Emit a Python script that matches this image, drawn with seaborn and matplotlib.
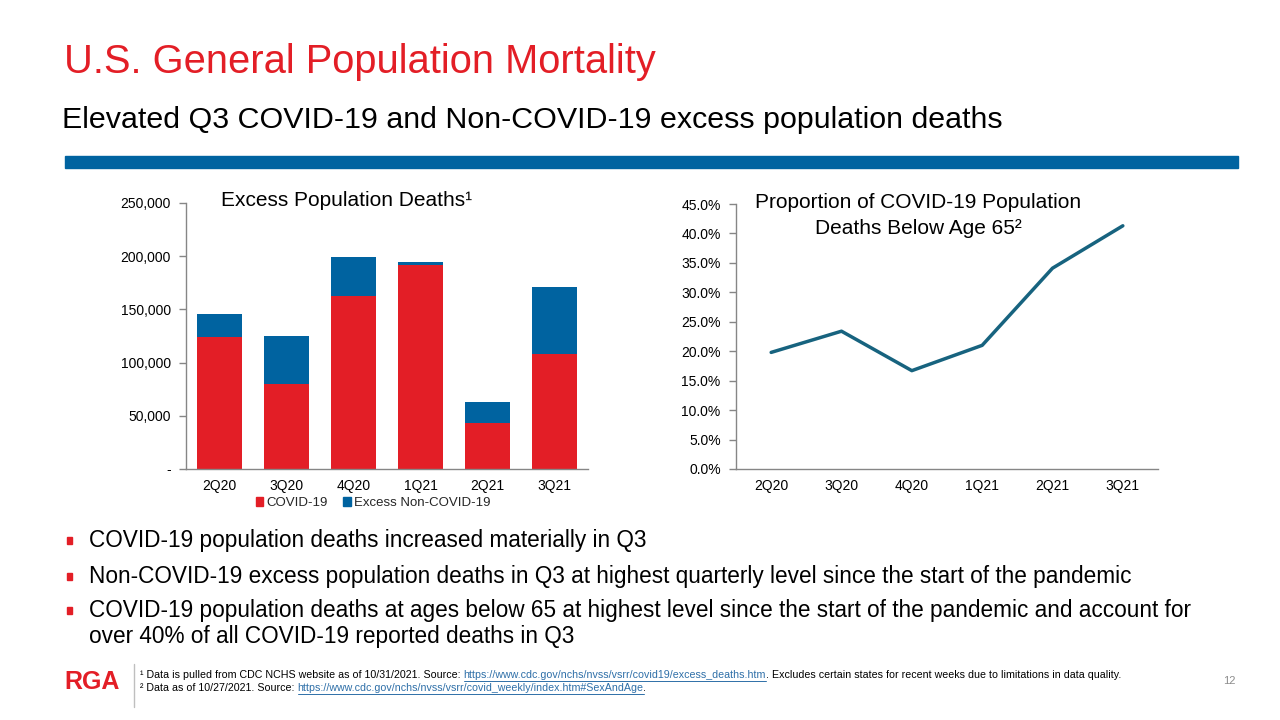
import pandas as pd
import seaborn as sns
import matplotlib.pyplot as plt
from matplotlib.patches import Patch, Rectangle
from matplotlib.lines import Line2D
from matplotlib.ticker import FuncFormatter

# data
quarters = ["2Q20", "3Q20", "4Q20", "1Q21", "2Q21", "3Q21"]
covid_deaths = [123600, 80300, 162200, 192000, 43300, 108500]
non_covid_excess = [22300, 44900, 37300, 2800, 19700, 62800]
share_below_65 = [19.8, 23.4, 16.7, 21.0, 34.1, 41.3]

bar_ticks = [0, 50000, 100000, 150000, 200000, 250000]
pct_ticks = [0, 5, 10, 15, 20, 25, 30, 35, 40, 45]

bullets = [
    "COVID-19 population deaths increased materially in Q3",
    "Non-COVID-19 excess population deaths in Q3 at highest quarterly level since the start of the pandemic",
    "COVID-19 population deaths at ages below 65 at highest level since the start of the pandemic and account for\nover 40% of all COVID-19 reported deaths in Q3",
]

RED = "#E31E26"
BLUE = "#0063A0"
LINE = "#17637F"
GREY = "#868686"

sns.set_theme(style="white")
plt.rcParams["font.family"] = ["Liberation Sans", "DejaVu Sans"]

df = pd.DataFrame({
    "quarter": quarters,
    "covid": covid_deaths,
    "non_covid": non_covid_excess,
    "share": share_below_65,
})
df["total"] = df["covid"] + df["non_covid"]

fig = plt.figure(figsize=(12.8, 7.2), dpi=100)
W, H = 1280, 720


def fx(px):
    return px / W


def fy(py):
    return 1 - py / H


# *Stacked bar chart of excess deaths (total bar in blue, covid part in red on top of it)
ax1 = fig.add_axes([fx(186), fy(469), fx(588) - fx(186), fy(203) - fy(469)])
sns.barplot(data=df, x="quarter", y="total", color=BLUE, width=0.67,
            saturation=1, linewidth=0, ax=ax1)
sns.barplot(data=df, x="quarter", y="covid", color=RED, width=0.67,
            saturation=1, linewidth=0, ax=ax1)
ax1.set_ylim(0, 250000)
ax1.set_xlim(-0.5, 5.5)
ax1.set_yticks(bar_ticks)
ax1.yaxis.set_major_formatter(FuncFormatter(lambda v, p: "-" if v == 0 else f"{int(v):,}"))
ax1.set_xlabel("")
ax1.set_ylabel("")
fig.text(fx(221), fy(201), "Excess Population Deaths\u00b9", ha="left", va="center",
         fontsize=15, color="black")
handles = [Patch(color=RED, label="COVID-19"), Patch(color=BLUE, label="Excess Non-COVID-19")]
ax1.legend(handles=handles, loc="center", bbox_to_anchor=(0.465, -0.128), ncol=2,
           frameon=False, fontsize=9.5, handlelength=0.6, handleheight=0.6,
           handletextpad=0.2, columnspacing=1.2, borderaxespad=0, borderpad=0)

# *Line chart of share of covid deaths below age 65
ax2 = fig.add_axes([fx(736), fy(469), fx(1158) - fx(736), fy(204) - fy(469)])
sns.lineplot(data=df, x="quarter", y="share", color=LINE, linewidth=2.5,
             sort=False, ax=ax2)
ax2.set_ylim(0, 45)
ax2.set_xlim(-0.5, 5.5)
ax2.set_yticks(pct_ticks)
ax2.yaxis.set_major_formatter(FuncFormatter(lambda v, p: f"{v:.1f}%"))
ax2.set_xlabel("")
ax2.set_ylabel("")
fig.text(fx(918), fy(202), "Proportion of COVID-19 Population", ha="center", va="center",
         fontsize=15, color="black")
fig.text(fx(918), fy(228), "Deaths Below Age 65\u00b2", ha="center", va="center",
         fontsize=15, color="black")

for ax in (ax1, ax2):
    for s in ("top", "right"):
        ax.spines[s].set_visible(False)
    for s in ("left", "bottom"):
        ax.spines[s].set_color(GREY)
        ax.spines[s].set_linewidth(1)
    ax.tick_params(axis="y", which="major", left=True, length=5, width=1,
                   color=GREY, labelsize=10, pad=6, labelcolor="black")
    ax.tick_params(axis="x", bottom=False, length=0, labelsize=10, pad=7,
                   labelcolor="black")
    ax.grid(False)

# *Slide title, subtitle and blue rule
fig.text(fx(64), fy(73), "U.S. General Population Mortality", fontsize=28.7,
         color=RED, ha="left", va="baseline")
fig.text(fx(62), fy(128), "Elevated Q3 COVID-19 and Non-COVID-19 excess population deaths",
         fontsize=21.9, color="black", ha="left", va="baseline")
fig.patches.append(Rectangle((fx(65), fy(168)), fx(1238) - fx(65), fy(156) - fy(168),
                             transform=fig.transFigure, color=BLUE, zorder=0))

# *Bullets
bullet_y = [541, 577, 611]
for y, txt in zip(bullet_y, bullets):
    fig.patches.append(Rectangle((fx(67), fy(y + 3)), fx(5), fy(y - 4) - fy(y + 3),
                                 transform=fig.transFigure, color=RED))
    if "\n" in txt:
        fig.text(fx(89), fy(y - 12), txt, fontsize=16.3, color="black", ha="left",
                 va="top", linespacing=1.15)
    else:
        fig.text(fx(89), fy(y), txt, fontsize=16.3, color="black", ha="left",
                 va="center")

# *Footer: logo, divider, page number, footnotes with underlined links
fig.text(fx(64), fy(689), "RGA", fontsize=18, fontweight="bold", color=RED,
         ha="left", va="baseline")
fig.add_artist(Line2D([fx(134), fx(134)], [fy(664), fy(707)], color="#BFBFBF", lw=1))
fig.text(fx(1236), fy(681), "12", fontsize=8, color="#8C8C8C", ha="right", va="center")

renderer = fig.canvas.get_renderer()
foot_lines = [
    (675, ["\u00b9 Data is pulled from CDC NCHS website as of 10/31/2021. Source: ",
           "https://www.cdc.gov/nchs/nvss/vsrr/covid19/excess_deaths.htm",
           ". Excludes certain states for recent weeks due to limitations in data quality."]),
    (688, ["\u00b2 Data as of 10/27/2021. Source: ",
           "https://www.cdc.gov/nchs/nvss/vsrr/covid_weekly/index.htm#SexAndAge",
           "."]),
]
for y, parts in foot_lines:
    x = fx(140)
    for i, part in enumerate(parts):
        col = "#2E6FA8" if i == 1 else "black"
        t = fig.text(x, fy(y), part, fontsize=7.7, color=col, ha="left", va="center")
        bb = t.get_window_extent(renderer)
        if i == 1:
            fig.add_artist(Line2D([x, x + bb.width / W], [fy(y + 5.5), fy(y + 5.5)],
                                  color=col, lw=0.7))
        x += bb.width / W

fig.savefig("out.png", dpi=100, facecolor="white")
